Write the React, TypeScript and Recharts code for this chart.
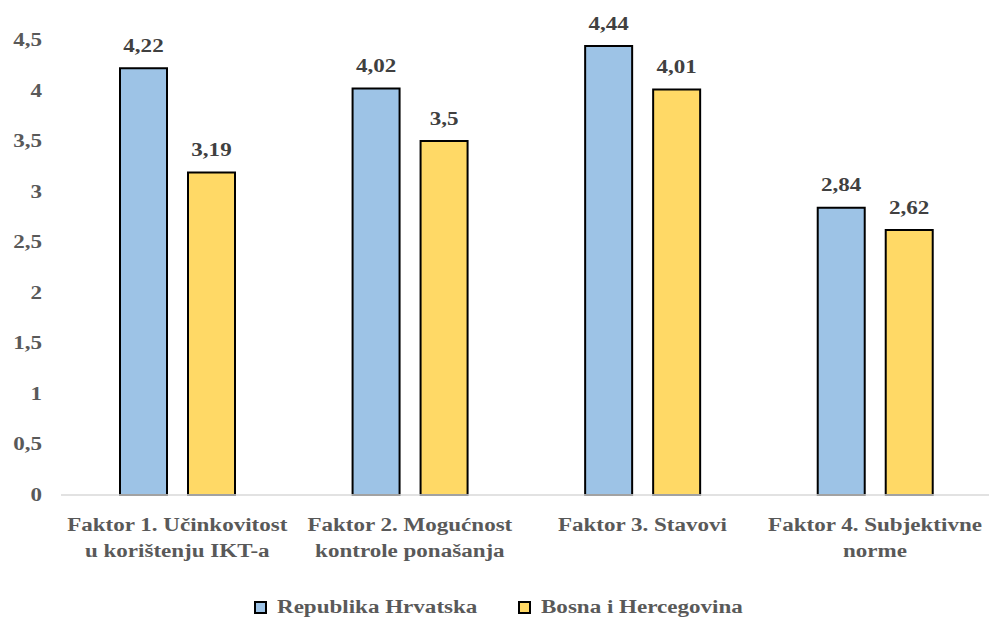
import React from "react";
import { BarChart, Bar, XAxis, YAxis, Legend, LabelList } from "recharts";

// values
const categories = [
  "Faktor 1. Učinkovitost\nu korištenju IKT-a",
  "Faktor 2. Mogućnost\nkontrole ponašanja",
  "Faktor 3. Stavovi",
  "Faktor 4. Subjektivne\nnorme",
];
const hrvatska = [4.22, 4.02, 4.44, 2.84];
const bih = [3.19, 3.5, 4.01, 2.62];
const yTicks = [0, 0.5, 1, 1.5, 2, 2.5, 3, 3.5, 4, 4.5];

const seriesNames = ["Republika Hrvatska", "Bosna i Hercegovina"];
const BLUE = "#9DC3E6";
const YELLOW = "#FFD966";

const data = categories.map((c, i) => ({
  name: c,
  hr: hrvatska[i],
  bih: bih[i],
}));

const FONT = '"Liberation Serif", "Times New Roman", serif';
const SX = 1.28; // the reference text is stretched horizontally
const fmt = (v: number) => String(v).replace(".", ",");

const YTick = ({ x, y, payload }: any) => (
  <g transform={`translate(${x},${y})`}>
    <text
      transform={`scale(${SX},1)`}
      textAnchor="end"
      dy={6}
      fill="#595959"
      fontFamily={FONT}
      fontWeight="bold"
      fontSize={18}
    >
      {fmt(payload.value)}
    </text>
  </g>
);

const XTick = ({ x, y, payload }: any) => {
  const lines = String(payload.value).split("\n");
  return (
    <g transform={`translate(${x},${y})`}>
      <text
        transform={`scale(${SX},1)`}
        textAnchor="middle"
        fill="#595959"
        fontFamily={FONT}
        fontWeight="bold"
        fontSize={18}
      >
        {lines.map((l, i) => (
          <tspan key={i} x={0} dy={i === 0 ? 28 : 26}>
            {l}
          </tspan>
        ))}
      </text>
    </g>
  );
};

const ValueLabel = ({ x, y, width, value }: any) => (
  <g transform={`translate(${x + width / 2},${y - 16.5})`}>
    <text
      transform={`scale(${SX},1)`}
      textAnchor="middle"
      fill="#404040"
      fontFamily={FONT}
      fontWeight="bold"
      fontSize={18}
    >
      {fmt(value)}
    </text>
  </g>
);

const LegendItem = ({ color, label }: { color: string; label: string }) => {
  const w = measure(label);
  return (
    <div style={{ display: "flex", alignItems: "center" }}>
      <div
        style={{
          width: 9,
          height: 9,
          background: color,
          border: "2px solid #000",
          marginRight: 10,
        }}
      />
      <span style={{ display: "inline-block", width: w * SX, whiteSpace: "nowrap" }}>
        <span
          style={{
            display: "inline-block",
            transform: `scaleX(${SX})`,
            transformOrigin: "left center",
          }}
        >
          {label}
        </span>
      </span>
    </div>
  );
};

let ctx: CanvasRenderingContext2D | null = null;
function measure(text: string) {
  if (!ctx) ctx = document.createElement("canvas").getContext("2d");
  if (!ctx) return text.length * 9;
  ctx.font = `bold 18px ${FONT}`;
  return ctx.measureText(text).width;
}

const CustomLegend = () => (
  <div
    style={{
      height: 26,
      display: "flex",
      justifyContent: "center",
      alignItems: "center",
      gap: 41,
      fontFamily: FONT,
      fontWeight: "bold",
      fontSize: 18,
      color: "#595959",
      paddingRight: 3,
    }}
  >
    <LegendItem color={BLUE} label={seriesNames[0]} />
    <LegendItem color={YELLOW} label={seriesNames[1]} />
  </div>
);

export default function App() {
  return (
    <div
      style={{
        position: "absolute",
        left: 0,
        top: 0,
        width: 989,
        height: 622,
        overflow: "hidden",
        background: "#fff",
      }}
    >
      <BarChart
        width={1000}
        height={622}
        data={data}
        margin={{ top: 40, right: 8.7, bottom: 2, left: 0 }}
        barSize={47}
        barGap={21}
      >
        <XAxis
          dataKey="name"
          height={99}
          interval={0}
          axisLine={{ stroke: "#D9D9D9", strokeWidth: 1.5 }}
          tickLine={false}
          tick={<XTick />}
        />
        <YAxis
          width={61}
          domain={[0, 4.5]}
          ticks={yTicks}
          axisLine={false}
          tickLine={false}
          tickMargin={13}
          tick={<YTick />}
        />
        <Legend
          verticalAlign="bottom"
          content={<CustomLegend />}
          wrapperStyle={{ left: 0, width: 1000 }}
        />
        <Bar dataKey="hr" name={seriesNames[0]} fill={BLUE} stroke="#000" strokeWidth={2} isAnimationActive={false}>
          <LabelList dataKey="hr" content={<ValueLabel />} />
        </Bar>
        <Bar dataKey="bih" name={seriesNames[1]} fill={YELLOW} stroke="#000" strokeWidth={2} isAnimationActive={false}>
          <LabelList dataKey="bih" content={<ValueLabel />} />
        </Bar>
      </BarChart>
    </div>
  );
}
